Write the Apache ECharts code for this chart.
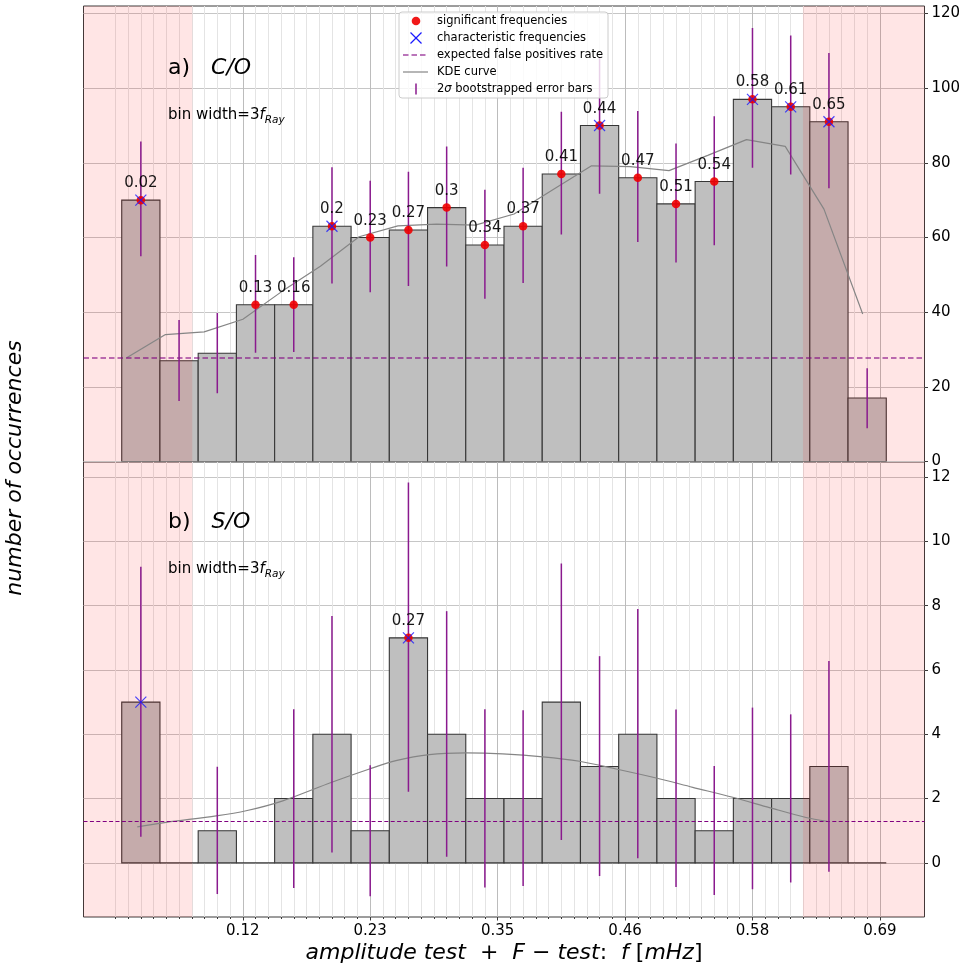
<!DOCTYPE html>
<html>
<head>
<meta charset="utf-8">
<script src="https://cdn.jsdelivr.net/npm/echarts@6/dist/echarts.min.js"></script>
<style>
  html, body { margin: 0; padding: 0; background: #ffffff; }
  #chart { width: 964px; height: 969px; }
</style>
</head>
<body>
<div id="chart"></div>
<script>
// Rayleigh frequency resolution for a 1-day baseline, in mHz
const F_RAY = 1000 / 86400;
// Histogram bin width, in units of F_RAY
const BIN_WIDTH = 3;

// Bin centres, in units of F_RAY
const binCentres = [2, 5, 8, 11, 14, 17, 20, 23, 26, 29, 32, 35, 38, 41, 44, 47, 50, 53, 56, 59];

// ---- Panel a) C/O ----
const coCounts = [70, 27, 29, 42, 42, 63, 60, 62, 68, 58, 63, 77, 90, 76, 69, 75, 97, 95, 91, 17];
const coErrLow = [55.0, 16.2, 18.3, 29.1, 29.3, 47.7, 45.3, 47.0, 52.2, 43.6, 47.8, 60.8, 71.7, 58.8, 53.3, 57.9, 78.7, 76.9, 73.2, 8.9];
const coErrHigh = [85.7, 37.9, 39.8, 55.3, 54.7, 78.8, 75.2, 77.6, 84.4, 72.8, 78.7, 93.7, 108.0, 93.9, 85.2, 92.5, 116.1, 114.1, 109.4, 25.0];
const coSignificant = [1, 0, 0, 1, 1, 1, 1, 1, 1, 1, 1, 1, 1, 1, 1, 1, 1, 1, 1, 0];
const coCharacteristic = [1, 0, 0, 0, 0, 1, 0, 0, 0, 0, 0, 0, 1, 0, 0, 0, 1, 1, 1, 0];
const coKdeX = [0.89, 3.93, 6.97, 10.01, 13.05, 16.09, 19.13, 22.17, 25.21, 28.25, 31.29, 34.33, 37.37, 40.41, 43.45, 46.49, 49.53, 52.57, 55.61, 58.65];
const coKdeY = [27.8, 34.0, 34.7, 38.1, 45.5, 52.3, 60.2, 63.1, 63.6, 63.3, 66.3, 72.8, 79.2, 79.0, 77.9, 82.0, 86.2, 84.4, 67.6, 39.5];
const coFalsePositives = 27.8;

// ---- Panel b) S/O ----
const soCounts = [5, 0, 1, 0, 2, 4, 1, 7, 4, 2, 2, 5, 3, 4, 2, 1, 2, 2, 3, 0];
const soErrLow = [0.81, null, -0.97, null, -0.78, 0.32, -1.04, 2.21, 0.19, -0.77, -0.72, 0.71, -0.41, 0.14, -0.75, -1.0, -0.82, -0.61, -0.28, null];
const soErrHigh = [9.21, null, 2.99, null, 4.78, 7.68, 3.04, 11.83, 7.83, 4.78, 4.75, 9.31, 6.43, 7.90, 4.77, 3.01, 4.83, 4.62, 6.28, null];
const soSignificant = [0, 0, 0, 0, 0, 0, 0, 1, 0, 0, 0, 0, 0, 0, 0, 0, 0, 0, 0, 0];
const soCharacteristic = [1, 0, 0, 0, 0, 0, 0, 1, 0, 0, 0, 0, 0, 0, 0, 0, 0, 0, 0, 0];
const soKdeX = [1.72, 3.99, 7.91, 10.26, 13.14, 16.93, 19.94, 22.02, 24.64, 27.51, 30.39, 33.55, 36.42, 39.30, 42.44, 45.31, 48.45, 51.33, 54.20, 55.87];
const soKdeY = [1.12, 1.26, 1.46, 1.62, 1.93, 2.50, 2.92, 3.18, 3.37, 3.42, 3.39, 3.30, 3.16, 2.92, 2.64, 2.35, 2.04, 1.72, 1.41, 1.29];
const soFalsePositives = 1.3;

// Frequency ranges shaded as unreliable, in units of F_RAY
const excludedBands = [[-2.5, 6.04], [53.96, 63.5]];

// Axis ticks
const xRange = [-2.5, 63.5];
const xMajorTicks = [10, 20, 30, 40, 50, 60];
const xMinorTicks = Array.from({ length: 61 }, (_, i) => i);
const coYRange = [0, 122];
const coYTicks = [0, 20, 40, 60, 80, 100, 120];
const soYRange = [-1.684, 12.47];
const soYTicks = [0, 2, 4, 6, 8, 10, 12];

const FONT = '"DejaVu Sans", "Noto Sans", sans-serif';
const fmtFreq = v => String(Math.round(v * F_RAY * 100) / 100);

const chart = echarts.init(document.getElementById('chart'), null, { renderer: 'canvas' });

const GRID_LEFT = 83.5, GRID_W = 841;
const grids = [
  { left: GRID_LEFT, top: 6, width: GRID_W, height: 455.5 },
  { left: GRID_LEFT, top: 462, width: GRID_W, height: 455 }
].map(g => Object.assign(g, { show: true, borderColor: '#3a3a3a', borderWidth: 1, backgroundColor: 'transparent', containLabel: false }));

function xAxes(gridIndex, withLabels) {
  return [
    {
      type: 'value', gridIndex, position: 'bottom', min: xRange[0], max: xRange[1],
      axisLine: { show: false, onZero: false },
      axisTick: { show: withLabels, customValues: xMinorTicks, length: 2, lineStyle: { color: '#3a3a3a' } },
      axisLabel: { show: false, customValues: xMinorTicks },
      splitLine: { show: true, lineStyle: { color: '#e4e4e4', width: 1 } }
    },
    {
      type: 'value', gridIndex, position: 'bottom', min: xRange[0], max: xRange[1],
      axisLine: { show: false, onZero: false },
      axisTick: { show: withLabels, customValues: xMajorTicks, length: 3.5, lineStyle: { color: '#3a3a3a' } },
      axisLabel: {
        show: withLabels, customValues: xMajorTicks, formatter: v => (v * F_RAY).toFixed(2),
        fontSize: 15, color: '#000', fontFamily: FONT, margin: 7
      },
      splitLine: { show: true, lineStyle: { color: '#bcbcbc', width: 1 } }
    }
  ];
}

function yAxis(gridIndex, range, ticks) {
  return {
    type: 'value', gridIndex, position: 'right', min: range[0], max: range[1],
    axisLine: { show: false, onZero: false },
    axisTick: { show: true, customValues: ticks, length: 3.5, lineStyle: { color: '#3a3a3a' } },
    axisLabel: { show: true, customValues: ticks, fontSize: 15, color: '#000', fontFamily: FONT, margin: 7 },
    splitLine: { show: true, lineStyle: { color: '#c6c6c6', width: 1 } }
  };
}

function panelSeries(p, counts, errLow, errHigh, significant, characteristic, kdeX, kdeY, falsePos, fpStyle) {
  const xi = p * 2 + 1, yi = p;
  const bars = binCentres.map((c, i) => [c, counts[i]]);
  const errs = binCentres.map((c, i) => [c, errLow[i], errHigh[i]]).filter(d => d[1] !== null);
  const sig = binCentres.map((c, i) => [c, counts[i]]).filter((d, i) => significant[i]);
  const chr = binCentres.map((c, i) => [c, counts[i]]).filter((d, i) => characteristic[i]);
  const kde = kdeX.map((x, i) => [x, kdeY[i]]);
  return [
    {
      type: 'custom', name: 'histogram', xAxisIndex: xi, yAxisIndex: yi, z: 2, clip: true,
      data: bars,
      renderItem: (params, api) => {
        const c = api.value(0), v = api.value(1);
        const a = api.coord([c - BIN_WIDTH / 2, v]);
        const b = api.coord([c + BIN_WIDTH / 2, 0]);
        return {
          type: 'rect',
          shape: { x: a[0], y: a[1], width: b[0] - a[0], height: b[1] - a[1] },
          style: { fill: '#bfbfbf', stroke: '#363636', lineWidth: 1.1 }
        };
      }
    },
    {
      type: 'custom', name: 'excluded', xAxisIndex: xi, yAxisIndex: yi, z: 3, clip: true, silent: true,
      data: excludedBands,
      renderItem: (params, api) => {
        const a = api.coord([api.value(0), 0]);
        const b = api.coord([api.value(1), 0]);
        const cs = params.coordSys;
        return {
          type: 'rect',
          shape: { x: a[0], y: cs.y, width: b[0] - a[0], height: cs.height },
          style: { fill: 'rgba(255,0,0,0.1)' }
        };
      }
    },
    {
      type: 'line', name: 'KDE curve', xAxisIndex: xi, yAxisIndex: yi, z: 4,
      data: kde, showSymbol: false, symbol: 'none', smooth: p === 1 ? 0.3 : false,
      lineStyle: { color: '#858585', width: 1.2 },
      markLine: {
        silent: true, symbol: 'none', label: { show: false },
        lineStyle: fpStyle,
        data: [{ yAxis: falsePos }]
      }
    },
    {
      type: 'custom', name: 'error bars', xAxisIndex: xi, yAxisIndex: yi, z: 5, clip: true,
      data: errs,
      renderItem: (params, api) => {
        const a = api.coord([api.value(0), api.value(1)]);
        const b = api.coord([api.value(0), api.value(2)]);
        return {
          type: 'line',
          shape: { x1: a[0], y1: a[1], x2: b[0], y2: b[1] },
          style: { stroke: '#8a1a8e', lineWidth: 1.5 }
        };
      }
    },
    {
      type: 'scatter', name: 'significant frequencies', xAxisIndex: xi, yAxisIndex: yi, z: 6,
      data: sig, symbol: 'circle', symbolSize: 8.5,
      itemStyle: { color: '#f00000', opacity: 0.9 },
      label: {
        show: true, position: 'top', distance: 5, formatter: prm => fmtFreq(prm.value[0]),
        fontSize: 15, color: '#000', fontFamily: FONT
      }
    },
    {
      type: 'scatter', name: 'characteristic frequencies', xAxisIndex: xi, yAxisIndex: yi, z: 7,
      data: chr, symbol: 'path://M0 0L10 10M10 0L0 10', symbolSize: 11,
      itemStyle: { color: 'none', borderColor: '#1a1aff', borderWidth: 1.2 }
    }
  ];
}

const series = [].concat(
  panelSeries(0, coCounts, coErrLow, coErrHigh, coSignificant, coCharacteristic, coKdeX, coKdeY, coFalsePositives,
    { color: 'rgba(128,0,128,0.72)', width: 1.6, type: [5.5, 3] }),
  panelSeries(1, soCounts, soErrLow, soErrHigh, soSignificant, soCharacteristic, soKdeX, soKdeY, soFalsePositives,
    { color: '#800080', width: 1.1, type: [4, 2.4] })
);

// Panel annotations and the hand-built legend
function panelTitle(letter, species, yMid) {
  return [
    {
      type: 'text', x: 168, y: yMid, z: 50,
      style: {
        text: '{n|' + letter + ')}{s|   }{i|' + species + '}', verticalAlign: 'middle',
        rich: {
          n: { fontSize: 22, fontFamily: FONT, fill: '#000' },
          s: { fontSize: 22, fontFamily: FONT },
          i: { fontSize: 22, fontFamily: FONT, fontStyle: 'italic', fill: '#000' }
        }
      }
    },
    {
      type: 'text', x: 168, y: yMid + 47, z: 50,
      style: {
        text: '{n|bin width=3}{f|f}{r|Ray}', verticalAlign: 'middle',
        rich: {
          n: { fontSize: 15, fontFamily: FONT, fill: '#000', lineHeight: 18 },
          f: { fontSize: 15, fontFamily: FONT, fontStyle: 'italic', fill: '#000', lineHeight: 18 },
          r: { fontSize: 10.5, fontFamily: FONT, fontStyle: 'italic', fill: '#000', lineHeight: 18, padding: [10, 0, 0, 0] }
        }
      }
    }
  ];
}

const LX = 399, LY = 12;
const legendRows = [21, 38, 55, 72, 89];
const legend = [
  { type: 'rect', z: 90, shape: { x: LX, y: LY, width: 209, height: 86, r: 3 },
    style: { fill: 'rgba(255,255,255,0.8)', stroke: '#cccccc', lineWidth: 1 } },
  { type: 'circle', z: 91, shape: { cx: 416, cy: legendRows[0], r: 4.3 }, style: { fill: '#f00000', opacity: 0.9 } },
  { type: 'polyline', z: 91, shape: { points: [[410.5, legendRows[1] - 5.5], [421.5, legendRows[1] + 5.5]] }, style: { stroke: '#1a1aff', lineWidth: 1.2 } },
  { type: 'polyline', z: 91, shape: { points: [[421.5, legendRows[1] - 5.5], [410.5, legendRows[1] + 5.5]] }, style: { stroke: '#1a1aff', lineWidth: 1.2 } },
  { type: 'line', z: 91, shape: { x1: 403, y1: legendRows[2], x2: 428, y2: legendRows[2] }, style: { stroke: 'rgba(128,0,128,0.72)', lineWidth: 1.6, lineDash: [5.5, 3] } },
  { type: 'line', z: 91, shape: { x1: 403, y1: legendRows[3], x2: 428, y2: legendRows[3] }, style: { stroke: '#858585', lineWidth: 1.2 } },
  { type: 'line', z: 91, shape: { x1: 416, y1: legendRows[4] - 5.5, x2: 416, y2: legendRows[4] + 5.5 }, style: { stroke: '#8a1a8e', lineWidth: 1.5 } }
];
const legendTexts = [
  'significant frequencies',
  'characteristic frequencies',
  'expected false positives rate',
  'KDE curve',
  '{n|2}{s|σ}{n| bootstrapped error bars}'
];
legendTexts.forEach((t, i) => {
  legend.push({
    type: 'text', z: 92, x: 437, y: legendRows[i],
    style: {
      text: t, verticalAlign: 'middle', fontSize: 11.5, fontFamily: FONT, fill: '#000',
      rich: {
        n: { fontSize: 11.5, fontFamily: FONT, fill: '#000' },
        s: { fontSize: 11.5, fontFamily: FONT, fontStyle: 'italic', fill: '#000' }
      }
    }
  });
});

const axisTitles = [
  {
    type: 'text', x: 15, y: 468, rotation: Math.PI / 2, z: 50,
    style: { text: 'number of occurrences', align: 'center', verticalAlign: 'middle',
      fontSize: 22, fontStyle: 'italic', fontFamily: FONT, fill: '#000' }
  },
  {
    type: 'text', x: 504, y: 953, z: 50,
    style: {
      text: '{i|amplitude test}{n|  +  }{i|F}{n| − }{i|test}{n|:  }{i|f}{n| [}{i|mHz}{n|]}',
      align: 'center', verticalAlign: 'middle',
      rich: {
        i: { fontSize: 22, fontFamily: FONT, fontStyle: 'italic', fill: '#000' },
        n: { fontSize: 22, fontFamily: FONT, fill: '#000' }
      }
    }
  }
];

chart.setOption({
  animation: false,
  backgroundColor: '#ffffff',
  grid: grids,
  xAxis: [].concat(xAxes(0, false), xAxes(1, true)),
  yAxis: [yAxis(0, coYRange, coYTicks), yAxis(1, soYRange, soYTicks)],
  series,
  graphic: [].concat(panelTitle('a', 'C/O', 68), panelTitle('b', 'S/O', 522), legend, axisTitles)
});
</script>
</body>
</html>
